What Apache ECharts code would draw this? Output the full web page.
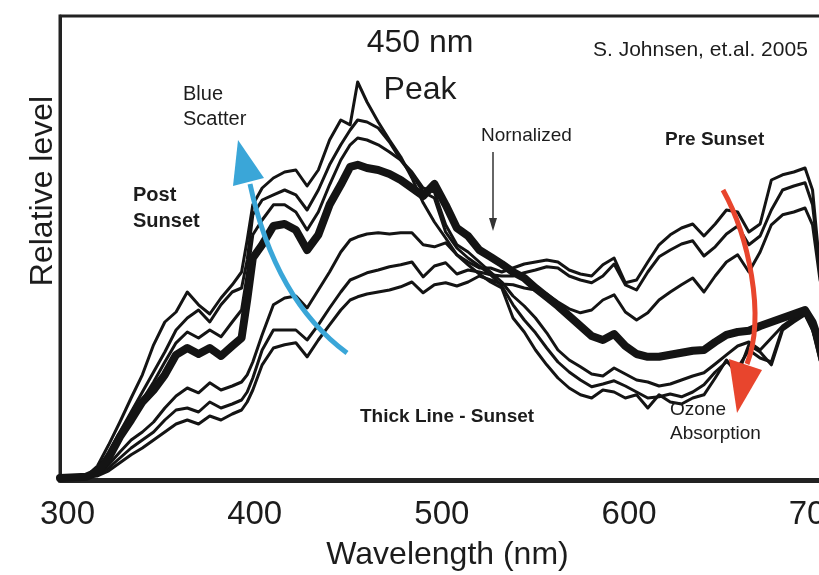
<!DOCTYPE html>
<html>
<head>
<meta charset="utf-8">
<script src="https://cdn.jsdelivr.net/npm/echarts@6/dist/echarts.min.js"></script>
<style>
  html, body { margin: 0; padding: 0; background: #fff; }
  #chart { width: 819px; height: 575px; }
</style>
</head>
<body>
<div id="chart"></div>
<script>
////////////////////
// spectra (wavelength in nm, relative level)
////////////////////
var wavelength = [296,310,316,322,328,334,340,346,352,358,364,370,376,382,388,393,396,399,404,410,416,422,428,434,440,446,451,455,460,466,472,478,484,490,496,502,508,514,520,526,532,538,544,550,556,562,568,574,580,586,592,598,604,610,616,622,628,634,640,646,652,658,664,670,676,682,688,694,698,702,710];

// post sunset (strong blue)
var post1 = [0.5,1,3.5,8.8,14.5,20.5,26.3,33.8,39.5,42,47,43.8,41.5,45.5,48.8,52,60,68.8,73,75.5,77,77.5,73.5,77.5,85,90,88.8,99.5,94.5,89.5,85,80.8,75.5,69.3,64.5,60.5,56.3,53.8,51.5,49.5,48,40.5,37,32.5,28.8,25.5,23,21.3,20.5,22.5,22,20.5,21.3,18,21.3,19.5,19,20.5,21.3,25.5,30,26.3,33.8,32,28.8,37.5,39.5,41.3,37.5,30,20];
var post2 = [0.5,0.8,2.5,7,12,17,22,27,32,37.5,40.5,42.5,39.5,43.8,47,48,55,66.3,70,71.3,72.5,71.3,67.5,72.5,78.8,83.8,87.5,90,89.5,88,84.5,80,76.3,72,70.5,62,58,55.5,53.5,51.3,48.5,43.8,40,36.8,33,29.5,27,25,23.3,24,24.8,23.5,22,20.5,20.8,21.5,20.8,22,23.8,27,29.5,28,32.5,30.5,29.5,38,40,41.5,38,30,20];
var post3 = [0.5,0.8,2.3,6.3,11,15.5,20,24.5,29.5,34.3,37,35.5,37.5,35.8,39.5,42.5,51.3,61.3,65,68.8,68.8,67,62.5,67,73.8,80,83.8,85.5,85,83.8,82,80,77,73,72,63.8,58.8,57,54.5,52,49.5,46,43.5,40.5,36.8,32.5,30,28.3,26.5,26,28,26.5,25,24.5,23.5,24,25,26,26.8,29,31.3,33.5,34.5,32.5,35.5,38.5,40.5,42,38.5,31.3,21.3];

// sunset (thick line)
var sunset = [0.5,0.8,2,5.5,10.8,15,19.5,22.5,26.3,31.3,33,31.5,33,31,33.5,35.5,45,55.5,58.8,63.5,64,62.5,57.5,61.3,68.8,73.8,78.3,78.8,78,77.5,76.5,75,73,71,74,68.8,63,61,57.5,55.8,54,52,50.5,48,45.8,43.5,41,38.5,36,35,36.5,33.5,31.5,30.8,30.8,31.3,31.8,32.3,32.5,34.5,36.3,37,37.3,38.5,39.5,40.5,41.5,42.5,39.5,33.8,25];

// pre sunset (strong red)
var pre1 = [0.5,0.8,1.5,3.8,7,10,12,14.5,18,21,23,21.8,24.3,22.5,23.5,24.5,26.3,29.5,36.3,43.8,45.5,46,43,47.5,52,57,60,60.8,61.5,61.8,61.5,61.8,61.8,58.8,58.3,59.3,56.3,54.5,53,53,52,53,54,54.5,55,54.5,52.5,51.5,51,53.8,55.5,49.3,50,54.5,58.8,61.3,63,64,61,64,67.5,67,62,64,75,76.3,77,78,72.5,52.5,37.5];
var pre2 = [0.5,0.8,1.3,3,5.5,8,10,12,15,17.5,18,17,19.5,18,19,20,22,25.5,32.5,37.5,37.5,37.5,35,38.8,43,47,50,50.8,51.8,52.5,53.3,53.8,54.5,50.8,53.5,54.3,51.5,52.5,52,51.3,51,51,51.8,52.5,53.3,53,51,50,49.3,51,54,48.8,47.5,52,55.8,57.5,59,59.8,56,58.3,61.5,63.5,58.8,61,67.5,72.5,73.5,74.3,68.8,52.5,37.5];
var pre3 = [0.5,0.8,1,2.3,4.3,6.3,8,10,12,14,15,14,16,15,16.5,17.5,19.5,22.5,28.8,33,33.8,34.3,30.8,35,38.8,42.5,45,45.8,46.5,47,47.5,48.3,49.5,46.8,48.8,49.3,48.5,49.5,51,50,49,48.8,48,47.5,46.5,44.5,42.8,41.8,42.5,45,46.3,42,40,41.8,45,47,48.8,50.5,47,51,54.5,56.3,52,57,63.8,66.3,67,68,63.8,50,35];

var xTicks = [300, 400, 500, 600, 700];

var FONT = "'Liberation Sans', Arial, Helvetica, sans-serif";
var INK = '#1c1c1c';

function pairs(values){
    return wavelength.map(function(w, i){
        return [w, values[i]];
    });
}

function spectrum(name, values, width, z){
    return {
        name: name,
        type: 'line',
        data: pairs(values),
        showSymbol: false,
        smooth: false,
        silent: true,
        z: z,
        lineStyle: { color: '#141414', width: width, join: 'round', cap: 'round' }
    };
}

function label(text, x, y, size, weight){
    return {
        type: 'text',
        x: x,
        y: y,
        z: 100,
        style: {
            text: text,
            font: (weight || 'normal') + ' ' + size + 'px ' + FONT,
            fill: INK,
            verticalAlign: 'middle'
        }
    };
}

var mychart = echarts.init(document.getElementById('chart'), null, { renderer: 'canvas' });

var chart_option = {
    animation: false,
    backgroundColor: '#ffffff',
    grid: {
        show: true,
        left: 60,
        top: 16,
        width: 775,
        height: 464,
        outerBoundsMode: 'none',
        containLabel: false,
        borderColor: '#222',
        borderWidth: 3,
        backgroundColor: 'transparent'
    },
    xAxis: {
        type: 'value',
        min: 296,
        max: 710,
        name: 'Wavelength (nm)',
        nameLocation: 'middle',
        nameGap: 59,
        nameTextStyle: { fontFamily: FONT, fontSize: 32, color: INK },
        axisLine: { show: true, lineStyle: { color: '#222', width: 5 } },
        axisTick: { show: false },
        splitLine: { show: false },
        axisLabel: {
            customValues: xTicks,
            margin: 18,
            fontFamily: FONT,
            fontSize: 33,
            color: INK
        }
    },
    yAxis: {
        type: 'value',
        min: 0,
        max: 116,
        axisLine: { show: true, onZero: false, lineStyle: { color: '#222', width: 3 } },
        axisTick: { show: false },
        axisLabel: { show: false },
        splitLine: { show: false }
    },
    series: [
        spectrum('Pre 1', pre1, 3, 2),
        spectrum('Pre 2', pre2, 3, 2),
        spectrum('Pre 3', pre3, 3, 2),
        spectrum('Post 1', post1, 3, 2),
        spectrum('Post 2', post2, 3, 2),
        spectrum('Post 3', post3, 3, 2),
        spectrum('Sunset', sunset, 8, 3)
    ],
    graphic: [
        // y axis title
        {
            type: 'text',
            x: 43,
            y: 191,
            rotation: Math.PI / 2,
            style: {
                text: 'Relative level',
                font: 'normal 32px ' + FONT,
                fill: INK,
                align: 'center',
                verticalAlign: 'middle'
            }
        },
        {
            type: 'text', x: 420, y: 43, z: 100,
            style: { text: '450 nm', font: 'normal 32px ' + FONT, fill: INK, align: 'center', verticalAlign: 'middle' }
        },
        {
            type: 'text', x: 420, y: 90, z: 100,
            style: { text: 'Peak', font: 'normal 32px ' + FONT, fill: INK, align: 'center', verticalAlign: 'middle' }
        },
        label('S. Johnsen, et.al. 2005', 593, 50, 21),
        label('Blue', 183, 94, 20),
        label('Scatter', 183, 119, 20),
        label('Post', 133, 195, 20, 'bold'),
        label('Sunset', 133, 221, 20, 'bold'),
        label('Nornalized', 481, 136, 19),
        label('Pre Sunset', 665, 140, 19, 'bold'),
        label('Thick Line - Sunset', 360, 417, 19, 'bold'),
        label('Ozone', 670, 410, 19),
        label('Absorption', 670, 434, 19),
        // normalized pointer
        {
            type: 'line', z: 100,
            shape: { x1: 493, y1: 152, x2: 493, y2: 222 },
            style: { stroke: '#333', lineWidth: 1.5 }
        },
        {
            type: 'polygon', z: 100,
            shape: { points: [[489, 218], [497, 218], [493, 231]] },
            style: { fill: '#333' }
        },
        // blue scatter arrow
        {
            type: 'bezierCurve', z: 90,
            shape: { x1: 347, y1: 353, cpx1: 275, cpy1: 300, x2: 250, y2: 184 },
            style: { stroke: '#3aa6d8', lineWidth: 5, fill: null }
        },
        {
            type: 'polygon', z: 90,
            shape: { points: [[238, 140], [264, 178], [233, 186]] },
            style: { fill: '#3aa6d8' }
        },
        // ozone arrow
        {
            type: 'bezierCurve', z: 90,
            shape: { x1: 723, y1: 190, cpx1: 748, cpy1: 235, cpx2: 766, cpy2: 315, x2: 747, y2: 364 },
            style: { stroke: '#e8452d', lineWidth: 5, fill: null }
        },
        {
            type: 'polygon', z: 90,
            shape: { points: [[729, 359], [762, 370], [737, 413]] },
            style: { fill: '#e8452d' }
        }
    ]
};
mychart.setOption(chart_option);
</script>
</body>
</html>
